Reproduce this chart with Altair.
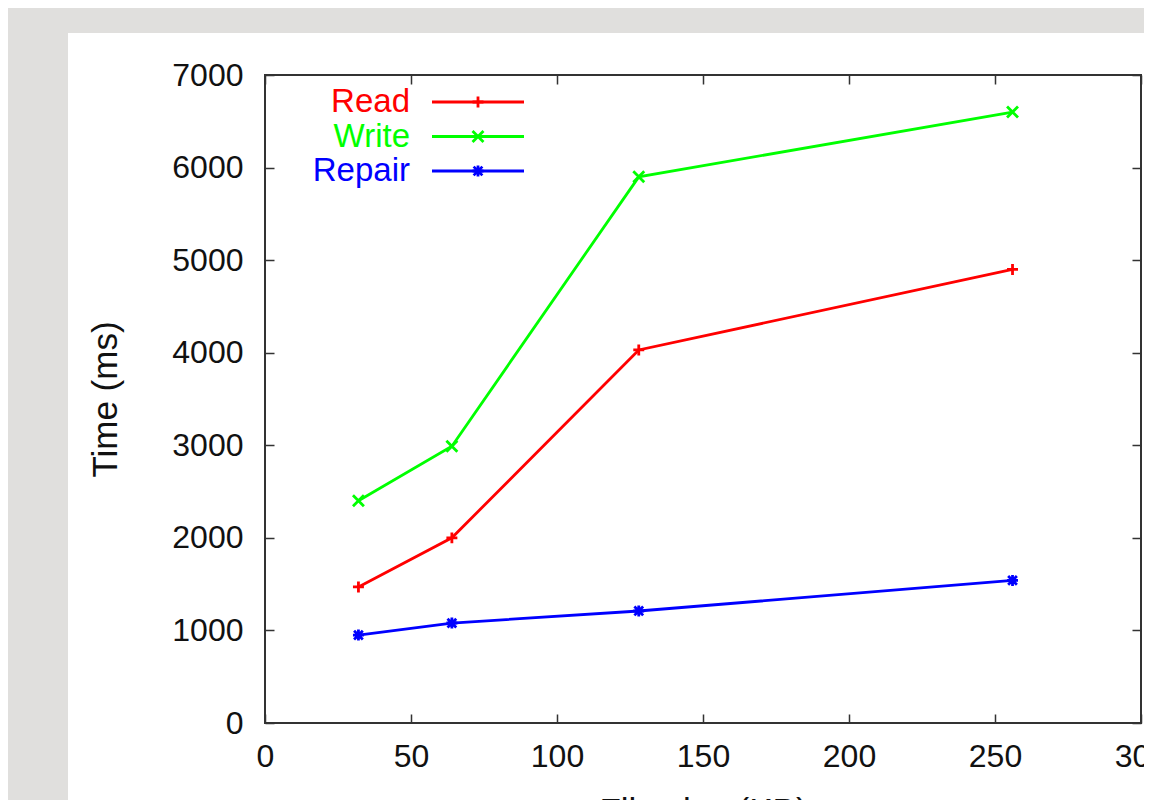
import altair as alt
import pandas as pd

# ---- data ----
file_size = [32, 64, 128, 256]
read_ms = [1470, 2000, 4030, 4900]
write_ms = [2400, 2990, 5900, 6600]
repair_ms = [950, 1080, 1210, 1540]

series_names = ["Read", "Write", "Repair"]
series_colors = ["#ff0000", "#00ff00", "#0000ff"]
x_ticks = [0, 50, 100, 150, 200, 250, 300]
y_ticks = [0, 1000, 2000, 3000, 4000, 5000, 6000, 7000]

PLUS = "M-1,0L1,0M0,-1L0,1"
CROSS = "M-1,-1L1,1M-1,1L1,-1"
STAR = "M-1,0L1,0M0,-1L0,1M-0.8,-0.8L0.8,0.8M-0.8,0.8L0.8,-0.8"
shapes = [PLUS, CROSS, STAR]

rows = []
for name, vals in zip(series_names, [read_ms, write_ms, repair_ms]):
    for xv, yv in zip(file_size, vals):
        rows.append({"series": name, "size": xv, "time": yv})
df = pd.DataFrame(rows)
legend_df = pd.DataFrame({"series": series_names})
one = pd.DataFrame({"a": [0]})

FONT = "Liberation Sans"
W, H = 876, 648
PAD_L, PAD_T, PAD_R, PAD_B = 257, 67, 3, 77

color_scale = alt.Scale(domain=series_names, range=series_colors)
shape_scale = alt.Scale(domain=series_names, range=shapes)
x_scale = alt.Scale(domain=[0, 300], nice=False, zero=True)
y_scale = alt.Scale(domain=[0, 7000], nice=False)

x_axis = alt.Axis(
    values=x_ticks, format="d", title="File size (KB)", domain=False, ticks=False,
    labelFlush=False,
    grid=True, gridColor="#333333", gridWidth=1.5, gridDash=[9, H - 18],
    labelFontSize=32, labelFont=FONT, labelColor="#111111", labelPadding=18,
    titleFontSize=35, titleFont=FONT, titleFontWeight="normal", titleColor="#111111",
    titlePadding=22,
)
y_axis = alt.Axis(
    values=y_ticks, format="d", title="Time (ms)", domain=False, ticks=False,
    labelFlush=False,
    grid=True, gridColor="#333333", gridWidth=1.5, gridDash=[9, W - 18],
    labelFontSize=32, labelFont=FONT, labelColor="#111111", labelPadding=22,
    titleFontSize=35, titleFont=FONT, titleFontWeight="normal", titleColor="#111111",
    titlePadding=48,
)

# gray page strips (decoration)
gray = "#e0dfdd"
strip_left = alt.Chart(one).mark_rect(color=gray).encode(
    x=alt.value(-PAD_L), x2=alt.value(-197), y=alt.value(-PAD_T), y2=alt.value(H + PAD_B)
)
strip_top = alt.Chart(one).mark_rect(color=gray).encode(
    x=alt.value(-PAD_L), x2=alt.value(W + PAD_R), y=alt.value(-PAD_T), y2=alt.value(-42)
)

lines = alt.Chart(df).mark_line(strokeWidth=2.8).encode(
    x=alt.X("size:Q", scale=x_scale, axis=x_axis),
    y=alt.Y("time:Q", scale=y_scale, axis=y_axis),
    color=alt.Color("series:N", scale=color_scale, legend=None),
    detail="series:N",
)
points = alt.Chart(df).mark_point(filled=False, strokeWidth=2.8, size=120, opacity=1).encode(
    x=alt.X("size:Q", scale=x_scale, axis=x_axis),
    y=alt.Y("time:Q", scale=y_scale, axis=None),
    color=alt.Color("series:N", scale=color_scale, legend=None),
    shape=alt.Shape("series:N", scale=shape_scale, legend=None),
)

leg_y = alt.Y("series:N", scale=alt.Scale(type="point", domain=series_names, range=[27, 96], padding=0), axis=None)
leg_text = alt.Chart(legend_df).mark_text(
    align="right", baseline="middle", fontSize=33, font=FONT
).encode(
    x=alt.value(145), y=leg_y, text="series:N",
    color=alt.Color("series:N", scale=color_scale, legend=None),
)
leg_rule = alt.Chart(legend_df).mark_rule(strokeWidth=2.8).encode(
    x=alt.value(167), x2=alt.value(259), y=leg_y,
    color=alt.Color("series:N", scale=color_scale, legend=None),
)
leg_pts = alt.Chart(legend_df).mark_point(filled=False, strokeWidth=2.8, size=120, opacity=1).encode(
    x=alt.value(213), y=leg_y,
    color=alt.Color("series:N", scale=color_scale, legend=None),
    shape=alt.Shape("series:N", scale=shape_scale, legend=None),
)

chart = alt.layer(
    strip_left, strip_top, lines, points, leg_rule, leg_pts, leg_text
).resolve_scale(y="independent").properties(
    width=W, height=H,
    autosize=alt.AutoSizeParams(type="none"),
    padding={"left": PAD_L, "top": PAD_T, "right": PAD_R, "bottom": PAD_B},
    background="white",
).configure_view(stroke="#333333", strokeWidth=2, fill="white")

chart.save("out.html", embed_options={"renderer": "svg", "actions": False})
